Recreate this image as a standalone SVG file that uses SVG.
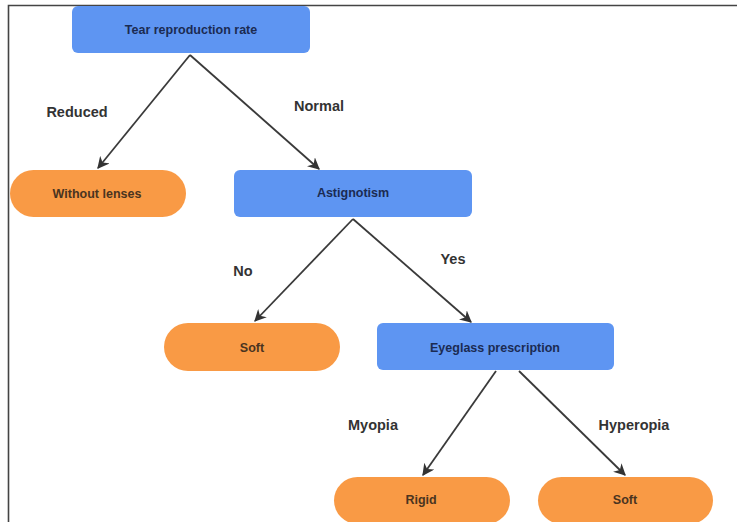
<svg xmlns="http://www.w3.org/2000/svg" width="737" height="522" viewBox="0 0 737 522">
<defs>
<style>
.b{fill:#5e95f2}
.o{fill:#f99a45}
.t{font-family:"Liberation Sans",Arial,sans-serif;font-size:12.5px;font-weight:bold;text-anchor:middle;dominant-baseline:central}
.tb{fill:#1b2b52}
.to{fill:#4a3420}
.lb{font-family:"Liberation Sans",Arial,sans-serif;font-size:14.5px;font-weight:bold;fill:#333;text-anchor:middle;dominant-baseline:central}
.e{stroke:#3a3a3a;stroke-width:1.8;fill:none;marker-end:url(#a)}
</style>
<marker id="a" viewBox="0 0 10 10" refX="9" refY="5" markerWidth="12" markerHeight="12" orient="auto" markerUnits="userSpaceOnUse">
<path d="M0,0 L10,5 L0,10 L3,5 z" fill="#333"/>
</marker>
</defs>
<rect width="737" height="522" fill="#fff"/>
<path d="M8.5,522 V5.5 H737" stroke="#444" stroke-width="1.6" fill="none"/>
<g id="connectors">
<line class="e" x1="190" y1="55" x2="98" y2="168"/>
<line class="e" x1="190" y1="55" x2="319" y2="169"/>
<line class="e" x1="353" y1="219" x2="255" y2="321"/>
<line class="e" x1="353" y1="219" x2="471" y2="322"/>
<line class="e" x1="496" y1="371" x2="423" y2="475"/>
<line class="e" x1="519" y1="371" x2="625" y2="475"/>
</g>
<g id="n-tear"><rect class="b" x="72" y="6" width="238" height="47" rx="6"/><text class="t tb" x="191" y="30">Tear reproduction rate</text></g>
<g id="n-without"><rect class="o" x="10" y="170" width="176" height="47" rx="23.5"/><text class="t to" x="97" y="194">Without lenses</text></g>
<g id="n-astig"><rect class="b" x="234" y="170" width="238" height="47" rx="6"/><text class="t tb" x="353" y="193">Astignotism</text></g>
<g id="n-soft1"><rect class="o" x="164" y="323" width="176" height="48" rx="24"/><text class="t to" x="252" y="348">Soft</text></g>
<g id="n-eye"><rect class="b" x="377" y="323" width="237" height="47" rx="6"/><text class="t tb" x="495" y="348">Eyeglass prescription</text></g>
<g id="n-rigid"><rect class="o" x="334" y="477" width="176" height="47" rx="23.5"/><text class="t to" x="421" y="500">Rigid</text></g>
<g id="n-soft2"><rect class="o" x="538" y="477" width="175" height="47" rx="23.5"/><text class="t to" x="625" y="500">Soft</text></g>
<g id="labels">
<text class="lb" x="77" y="112">Reduced</text>
<text class="lb" x="319" y="106">Normal</text>
<text class="lb" x="243" y="271">No</text>
<text class="lb" x="453" y="259">Yes</text>
<text class="lb" x="373" y="425">Myopia</text>
<text class="lb" x="634" y="425">Hyperopia</text>
</g>
</svg>
